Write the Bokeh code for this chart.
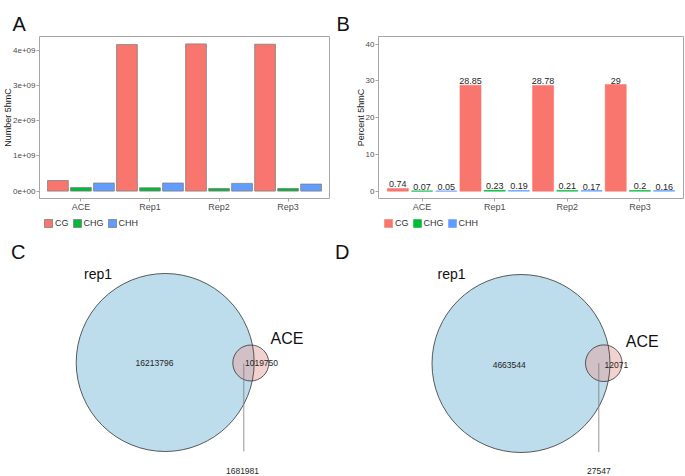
from bokeh.plotting import figure
from bokeh.models import (Range1d, FixedTicker, CustomJSTickFormatter, Legend, LegendItem,
                          ColumnDataSource, Label)
from bokeh.layouts import row, column
from bokeh.transform import dodge
from bokeh.embed import file_html
from bokeh.resources import INLINE
from bokeh.core.properties import value

# ---------------- data ----------------
samples = ["ACE", "Rep1", "Rep2", "Rep3"]
contexts = ["CG", "CHG", "CHH"]
number_cg = [3.0e8, 4.17e9, 4.19e9, 4.18e9]
number_chg = [1.05e8, 0.95e8, 0.75e8, 0.75e8]
number_chh = [2.3e8, 2.3e8, 2.2e8, 2.0e8]
percent_cg = [0.74, 28.85, 28.78, 29]
percent_chg = [0.07, 0.23, 0.21, 0.2]
percent_chh = [0.05, 0.19, 0.17, 0.16]
number_ticks = [0, 1e9, 2e9, 3e9, 4e9]
percent_ticks = [0, 10, 20, 30, 40]

venn_sets = ["rep1", "ACE"]
venn_c_counts = [16213796, 1019750, 1681981]   # rep1 only, ACE only, overlap
venn_d_counts = [4663544, 12071, 27547]

# ---------------- style ----------------
FONT = "Liberation Sans"
COLORS = ["#F8766D", "#00BA38", "#619CFF"]
TICK_COLOR = "#4d4d4d"
FRAME_COLOR = "#a6a6a6"
W_LEFT, W_RIGHT = 335, 349


def make_source(series):
    return ColumnDataSource(dict(x=[1, 2, 3, 4], sample=samples,
                                 CG=series[0], CHG=series[1], CHH=series[2],
                                 CG_l=[str(v) for v in series[0]],
                                 CHG_l=[str(v) for v in series[1]],
                                 CHH_l=[str(v) for v in series[2]]))


def bar_style(i, outline):
    if outline is None:
        return dict(fill_color=COLORS[i], line_color=COLORS[i], line_alpha=0.55, line_width=1.0)
    return dict(fill_color=COLORS[i], line_color=outline, line_width=0.8)


def bar_panel(letter, ylab, src, yrange, yticks, width, mb_left, mb_right,
              outline, bar_w, with_labels, title_offset, fmt_js=None):
    p = figure(width=width, height=216, output_backend="svg", toolbar_location=None,
               x_range=Range1d(0.4, 4.6), y_range=Range1d(*yrange),
               min_border_left=mb_left, min_border_right=mb_right,
               min_border_top=36, min_border_bottom=18)
    p.title.text = letter
    p.title.text_font = FONT
    p.title.text_font_size = "20px"
    p.title.text_font_style = "normal"
    p.title.text_color = "#111111"
    p.title.align = "left"
    p.title.offset = title_offset
    p.title.standoff = 3
    p.xgrid.visible = False
    p.ygrid.visible = False
    p.outline_line_color = FRAME_COLOR
    p.outline_line_width = 1
    p.background_fill_color = "white"
    p.border_fill_color = "white"

    for i, ctx in enumerate(contexts):
        off = (i - 1) / 3.0
        p.vbar(x=dodge("x", off, range=p.x_range), top=ctx, bottom=0, width=bar_w,
               source=src, **bar_style(i, outline))
        if with_labels:
            p.text(x=dodge("x", off, range=p.x_range), y=ctx, text=ctx + "_l", source=src,
                   text_font=value(FONT), text_font_size="9px", text_color="#262626",
                   text_align="center", text_baseline="bottom", y_offset=-1)

    p.xaxis.ticker = FixedTicker(ticks=[1, 2, 3, 4])
    p.xaxis.major_label_overrides = {1: samples[0], 2: samples[1], 3: samples[2], 4: samples[3]}
    p.yaxis.ticker = FixedTicker(ticks=yticks)
    if fmt_js:
        p.yaxis.formatter = CustomJSTickFormatter(code=fmt_js)
    p.yaxis.axis_label = ylab
    for ax in (p.xaxis, p.yaxis):
        ax.axis_line_color = None
        ax.major_tick_line_color = FRAME_COLOR
        ax.major_tick_in = 0
        ax.major_tick_out = 3
        ax.minor_tick_line_color = None
        ax.major_label_text_font = FONT
        ax.major_label_text_color = TICK_COLOR
        ax.major_label_standoff = 1
        ax.axis_label_text_font = FONT
        ax.axis_label_text_font_style = "normal"
        ax.axis_label_text_font_size = "9px"
        ax.axis_label_text_color = "#1a1a1a"
        ax.axis_label_standoff = -3
    p.xaxis.major_label_standoff = 0
    p.xaxis.major_label_text_font_size = "9px"
    p.yaxis.major_label_text_font_size = "8px"
    return p


def legend_strip(width, x0, src, outline):
    # legend keys for the panel above; the key renderers themselves are hidden
    p = figure(width=width, height=22, output_backend="svg", toolbar_location=None,
               x_range=Range1d(0.4, 4.6), y_range=Range1d(0, 1), min_border=0)
    p.axis.visible = False
    p.grid.visible = False
    p.outline_line_color = None
    items = []
    for i, ctx in enumerate(contexts):
        r = p.vbar(x="x", top=ctx, width=0.3, source=src, visible=False,
                   **bar_style(i, outline))
        items.append(LegendItem(label=ctx, renderers=[r]))
    leg = Legend(items=items, orientation="horizontal", location=(x0, 10),
                 glyph_width=10, glyph_height=10, label_height=10, label_width=10,
                 label_text_font=FONT, label_text_font_size="9px", label_text_color="#333333",
                 label_standoff=2, spacing=3, padding=0, margin=0,
                 border_line_color=None, background_fill_alpha=0)
    p.add_layout(leg)
    return p


exp_js = """
var s = tick.toExponential(0);
return s.replace(/e\\+(\\d)$/, "e+0$1");
"""

srcA = make_source([number_cg, number_chg, number_chh])
srcB = make_source([percent_cg, percent_chg, percent_chh])

pA = bar_panel("A", "Number 5hmC", srcA, (-0.21e9, 4.40e9), number_ticks,
               W_LEFT, 37, 6, "#7f7f7f", 0.3, False, -27, exp_js)
pB = bar_panel("B", "Percent 5hmC", srcB, (-2.0, 42.1), percent_ticks,
               W_RIGHT, 43, 1, None, 0.29, True, -42)
lA = legend_strip(W_LEFT, 43, srcA, "#7f7f7f")
lB = legend_strip(W_RIGHT, 48, srcB, None)


def venn_panel(letter, counts, geom, xr, width, letter_x):
    (bx, by, br), (sx, sy, sr), (lx, ly0, ly1), pos = geom
    p = figure(width=width, height=237, output_backend="svg", toolbar_location=None,
               x_range=Range1d(*xr), y_range=Range1d(475, 238), min_border=0)
    p.axis.visible = False
    p.grid.visible = False
    p.outline_line_color = None
    p.background_fill_color = "white"
    p.border_fill_color = "white"
    p.circle(x=[bx], y=[by], radius=br, fill_color="#bddcec", fill_alpha=1.0, line_color=None)
    p.circle(x=[sx], y=[sy], radius=sr, fill_color="#E5A5A1", fill_alpha=0.5, line_color=None)
    p.circle(x=[bx, sx], y=[by, sy], radius=[br, sr], fill_color=None,
             line_color="#333333", line_width=0.8)
    p.segment(x0=[lx], y0=[ly0], x1=[lx], y1=[ly1], line_color="#7a7a7a", line_width=0.8)
    (rx, ry), (ax_, ay), (c1x, c1y), (c2x, c2y), (c3x, c3y) = pos
    p.text(x=[rx], y=[ry], text=venn_sets[:1], text_font=value(FONT),
           text_font_size="14px", text_color="#111111",
           text_align="center", text_baseline="middle")
    p.text(x=[ax_], y=[ay], text=venn_sets[1:], text_font=value(FONT),
           text_font_size="16px", text_color="#111111",
           text_align="center", text_baseline="middle")
    p.text(x=[c1x, c2x, c3x], y=[c1y, c2y, c3y], text=[str(c) for c in counts],
           text_font=value(FONT), text_font_size="8.5px", text_color="#262626",
           text_align="center", text_baseline="middle")
    p.add_layout(Label(x=letter_x, y=251.5, text=letter, text_font=FONT,
                       text_font_size="20px", text_color="#111111",
                       text_baseline="alphabetic"))
    return p


geom_c = ((164.7, 362, 89), (250.3, 362.5, 18), (243.3, 363, 451),
          ((97.5, 273), (286.5, 338), (154, 362), (261, 362), (242, 470)))
geom_d = ((520.5, 363, 89), (603.3, 362.7, 18.3), (598.3, 362.7, 451.7),
          ((451, 273), (641.7, 341), (508.7, 364), (615.8, 364), (598.3, 470.7)))

pC = venn_panel("C", venn_c_counts, geom_c, (0, W_LEFT), W_LEFT, 10.5)
pD = venn_panel("D", venn_d_counts, geom_d, (W_LEFT, W_LEFT + W_RIGHT), W_RIGHT, 334.5)

layout = column(row(pA, pB), row(lA, lB), row(pC, pD))
open("out.html", "w").write(file_html(layout, INLINE))
